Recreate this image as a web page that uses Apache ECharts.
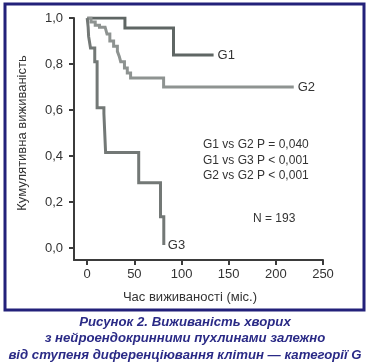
<!DOCTYPE html>
<html>
<head>
<meta charset="utf-8">
<script src="https://cdn.jsdelivr.net/npm/echarts@6/dist/echarts.min.js"></script>
<style>
html,body{margin:0;padding:0;background:#fff;}
#c{width:370px;height:364px;}
</style>
</head>
<body>
<div id="c"></div>
<script>
// Kaplan–Meier curves (time in months, cumulative survival)
var g1Times = [0, 40, 91.5, 134];
var g1Surv  = [1.0, 0.957, 0.839, 0.839];

var g2Times = [0, 4, 8.5, 13, 19, 21, 24, 28, 32, 34, 35.5, 39.5, 42.5, 46, 81, 219];
var g2Surv  = [1.0, 0.983, 0.969, 0.96, 0.952, 0.93, 0.90, 0.877, 0.855, 0.833, 0.81, 0.783, 0.761, 0.739, 0.70, 0.70];

var g3Times = [0, 1, 1.5, 3.5, 8, 10.5, 17.7, 19.5, 54.6, 77.7, 81.2];
var g3Surv  = [1.0, 0.96, 0.92, 0.87, 0.81, 0.61, 0.585, 0.415, 0.284, 0.136, 0.013];

var xTicks = [0, 50, 100, 150, 200, 250];
var yTicks = [0, 0.2, 0.4, 0.6, 0.8, 1.0];

var statLines = ['G1 vs G2 P = 0,040', 'G1 vs G3 P < 0,001', 'G2 vs G2 P < 0,001'];
var nText = 'N = 193';
var xTitle = 'Час виживаності (міс.)';
var yTitle = 'Кумулятивна виживаність';
var captionLines = [
  'Рисунок 2. Виживаність хворих',
  'з нейроендокринними пухлинами залежно',
  'від ступеня диференціювання клітин — категорії G'
];

function pairs(t, s) { return t.map(function (v, i) { return [v, s[i]]; }); }

var FONT = '"Liberation Sans", Arial, sans-serif';
var chart = echarts.init(document.getElementById('c'), null, {renderer: 'canvas'});

function kmSeries(name, t, s, color) {
  return {
    name: name, type: 'line', step: 'end', data: pairs(t, s),
    symbol: 'none', silent: true, animation: false,
    lineStyle: {color: color, width: 3, cap: 'butt', join: 'miter'},
    endLabel: {show: true, formatter: name, color: '#333', fontSize: 13,
               fontFamily: FONT, distance: 4}
  };
}

var graphics = [
  {type: 'rect', shape: {x: 5, y: 4, width: 359, height: 306},
   style: {fill: 'none', stroke: '#23217a', lineWidth: 3}},
  {type: 'text', x: 190, y: 297,
   style: {text: xTitle, fontSize: 13, fontFamily: FONT, fill: '#333',
           textAlign: 'center', textVerticalAlign: 'middle'}},
  {type: 'text', x: 22, y: 133, rotation: Math.PI / 2,
   style: {text: yTitle, fontSize: 13, fontFamily: FONT, fill: '#333',
           textAlign: 'center', textVerticalAlign: 'middle'}},
  {type: 'text', x: 253, y: 219,
   style: {text: nText, fontSize: 12, fontFamily: FONT, fill: '#333',
           textAlign: 'left', textVerticalAlign: 'middle'}}
];
statLines.forEach(function (s, i) {
  graphics.push({type: 'text', x: 203, y: 145 + i * 15.5,
    style: {text: s, fontSize: 12, fontFamily: FONT, fill: '#333',
            textAlign: 'left', textVerticalAlign: 'middle'}});
});
captionLines.forEach(function (s, i) {
  graphics.push({type: 'text', x: 185, y: 322 + i * 16.5,
    style: {text: s, fontSize: 13.2, fontWeight: 'bold', fontStyle: 'italic',
            fontFamily: FONT, fill: '#2a2a86',
            textAlign: 'center', textVerticalAlign: 'middle'}});
});

chart.setOption({
  animation: false,
  grid: {left: 74, right: 47, top: 18, bottom: 104, containLabel: false},
  xAxis: {
    type: 'value', min: -14, max: 250,
    splitLine: {show: false},
    axisLine: {show: true, onZero: false, lineStyle: {color: '#3b3b3b', width: 2}},
    axisTick: {show: true, length: 5, customValues: xTicks, lineStyle: {color: '#3b3b3b', width: 2}},
    axisLabel: {customValues: xTicks, margin: 8, fontSize: 13, fontFamily: FONT, color: '#333'}
  },
  yAxis: {
    type: 'value', min: -0.052, max: 1.0,
    splitLine: {show: false},
    axisLine: {show: true, onZero: false, lineStyle: {color: '#3b3b3b', width: 2}},
    axisTick: {show: true, length: 5, customValues: yTicks, lineStyle: {color: '#3b3b3b', width: 2}},
    axisLabel: {customValues: yTicks, margin: 11, fontSize: 13, fontFamily: FONT, color: '#333',
                formatter: function (v) { return v.toFixed(1).replace('.', ','); }}
  },
  series: [
    kmSeries('G1', g1Times, g1Surv, '#5f6664'),
    kmSeries('G2', g2Times, g2Surv, '#8e9391'),
    kmSeries('G3', g3Times, g3Surv, '#737876')
  ],
  graphic: graphics
});
</script>
</body>
</html>
